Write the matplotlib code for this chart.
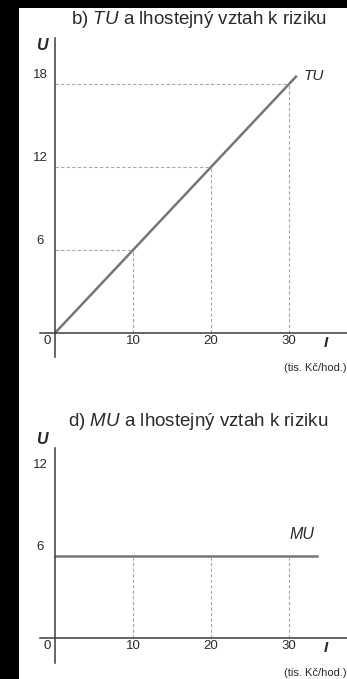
import numpy as np
import matplotlib.pyplot as plt
from matplotlib.patches import Rectangle

plt.rcParams['font.family'] = ['Liberation Sans', 'DejaVu Sans']
plt.rcParams['mathtext.fontset'] = 'custom'
plt.rcParams['mathtext.it'] = 'Liberation Sans:italic'
plt.rcParams['mathtext.rm'] = 'Liberation Sans'

# dochod I (tis. Kc/hod.)
income = [0, 10, 20, 30]
income_end_tu = 31
income_end_mu = 33.6
# celkovy uzitek TU = 0.6 * I
tu_levels = [0, 6, 12, 18]
mu_level = 6
tu_ticks = [6, 12, 18]
mu_ticks = [6, 12]

W, H = 347, 679
fig = plt.figure(figsize=(W / 100, H / 100), dpi=100)
fig.patch.set_facecolor('black')
fig.add_artist(Rectangle((19 / W, 0), 1 - 19 / W, (H - 8) / H,
                         transform=fig.transFigure, facecolor='white',
                         edgecolor='none', zorder=0))

AX_COL = '#3c3c3c'
LINE_COL = '#767676'
DASH_COL = '#a8a8a8'
TXT = '#2a2a2a'


def make_axes(top_px, bottom_px, ylim):
    ax = fig.add_axes([40 / W, (H - bottom_px) / H, (W - 40) / W,
                       (bottom_px - top_px) / H])
    ax.set_facecolor('none')
    ax.set_xlim(-15 / 7.8, 292 / 7.8)
    ax.set_ylim(*ylim)
    for s in ['top', 'right']:
        ax.spines[s].set_visible(False)
    ax.spines['left'].set_position(('data', 0))
    ax.spines['bottom'].set_position(('data', 0))
    for s in ['left', 'bottom']:
        ax.spines[s].set_color(AX_COL)
        ax.spines[s].set_linewidth(1.1)
    ax.set_xticks([])
    ax.set_yticks([])
    return ax


def x_labels(ax):
    ax.annotate('0', (0, 0), xytext=(-8, -8), textcoords='offset pixels',
                ha='center', va='center', fontsize=9.5, color=TXT)
    for v in income[1:]:
        ax.annotate(str(v), (v, 0), xytext=(0, -8), textcoords='offset pixels',
                    ha='center', va='center', fontsize=9.5, color=TXT)
    ax.annotate('I', (income[-1], 0), xytext=(37, -10), textcoords='offset pixels',
                ha='center', va='center', fontsize=11, fontweight='bold',
                fontstyle='italic', color=TXT)
    ax.annotate('(tis. Kč/hod.)', (income[-1], 0), xytext=(26, -35),
                textcoords='offset pixels', ha='center', va='center',
                fontsize=8, color=TXT)


# b) TU
ax1 = make_axes(38, 357, (-24 / 13.83, 295 / 13.83))
tu_x = np.array([0, income_end_tu])
ax1.plot(tu_x, 0.6 * tu_x, color=LINE_COL, lw=1.8, solid_capstyle='butt')
for x, y in zip(income[1:], tu_levels[1:]):
    ax1.plot([0, x], [y, y], color=DASH_COL, lw=0.8, ls=(0, (3, 2)))
    ax1.plot([x, x], [0, y], color=DASH_COL, lw=0.8, ls=(0, (3, 2)))
for v in tu_ticks:
    ax1.annotate(str(v), (0, v), xytext=(-15, 9), textcoords='offset pixels',
                 ha='center', va='center', fontsize=9.5, color=TXT)
x_labels(ax1)
ax1.annotate('TU', (income_end_tu, 0.6 * income_end_tu), xytext=(7, 0),
             textcoords='offset pixels', ha='left', va='center', fontsize=11,
             fontstyle='italic', color=TXT)
ax1.annotate('U', (0, 295 / 13.83), xytext=(-13, -7), textcoords='offset pixels',
             ha='center', va='center', fontsize=11.5, fontweight='bold',
             fontstyle='italic', color=TXT)
fig.text(199 / W, 1 - 20 / H, 'b) $\\mathit{TU}$ a lhostejný vztah k riziku',
         ha='center', va='center', fontsize=13.5, color=TXT)

# d) MU
ax2 = make_axes(448, 663, (-25 / 13.67, 190 / 13.67))
ax2.plot([0, income_end_mu], [mu_level, mu_level], color=LINE_COL, lw=1.8)
for x in income[1:]:
    ax2.plot([x, x], [0, mu_level], color=DASH_COL, lw=0.8, ls=(0, (3, 2)))
for v in mu_ticks:
    ax2.annotate(str(v), (0, v), xytext=(-15, 9), textcoords='offset pixels',
                 ha='center', va='center', fontsize=9.5, color=TXT)
x_labels(ax2)
ax2.annotate('MU', (income_end_mu, mu_level), xytext=(-15, 21),
             textcoords='offset pixels', ha='center', va='center', fontsize=11.5,
             fontstyle='italic', color=TXT)
ax2.annotate('U', (0, 190 / 13.67), xytext=(-13, 8), textcoords='offset pixels',
             ha='center', va='center', fontsize=11.5, fontweight='bold',
             fontstyle='italic', color=TXT)
fig.text(198 / W, 1 - 421 / H, 'd) $\\mathit{MU}$ a lhostejný vztah k riziku',
         ha='center', va='center', fontsize=13.5, color=TXT)

fig.savefig('out.png', dpi=100, facecolor=fig.get_facecolor())
